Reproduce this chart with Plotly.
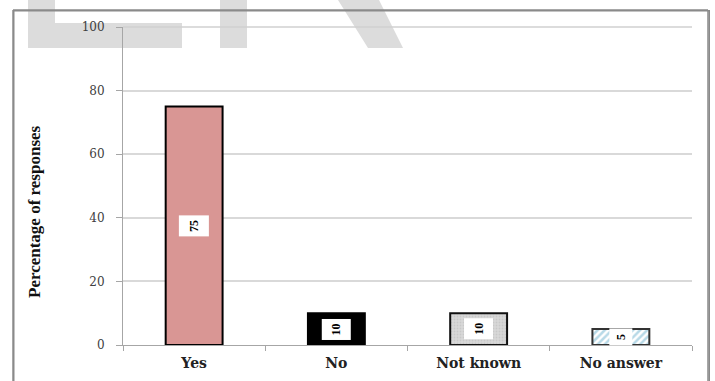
import plotly.graph_objects as go

categories = ["Yes", "No", "Not known", "No answer"]
values = [75, 10, 10, 5]
labels = ["75", "10", "10", "5"]
y_ticks = [0, 20, 40, 60, 80, 100]

W, H = 715, 381
L, R, T, B = 123, 692, 27, 345


def fx(x):
    return x / W


def fy(y):
    return 1 - y / H


styles = [
    dict(color="#d99694", line=dict(color="#000000", width=2)),
    dict(color="#000000", line=dict(color="#000000", width=2)),
    dict(color="#d4d4d4", line=dict(color="#111111", width=2),
         pattern=dict(shape=".", fgcolor="#b8b8b8", bgcolor="#d8d8d8", size=3, solidity=0.3)),
    dict(color="#ffffff", line=dict(color="#333333", width=2),
         pattern=dict(shape="/", fgcolor="#6fb3cf", bgcolor="#ffffff", size=5, solidity=0.5)),
]

fig = go.Figure()
for c, v, st in zip(categories, values, styles):
    fig.add_trace(go.Bar(x=[c], y=[v], marker=st, width=0.4, hoverinfo="skip"))

serif = "Liberation Serif"
wide_serif = "DejaVu Serif"

box_sizes = [(12, 21), (12, 20), (12, 20), (8, 14)]
for c, v, t, (bw, bh) in zip(categories, values, labels, box_sizes):
    fig.add_annotation(
        x=c, y=v / 2, xref="x", yref="y", text="<b>" + t + "</b>", showarrow=False,
        textangle=-90, bgcolor="white", borderpad=4, width=bw, height=bh,
        font=dict(family=serif, size=12, color="#000000"),
    )

fig.add_annotation(
    x=fx(34), y=fy(212), xref="paper", yref="paper",
    text="<b>Percentage of responses</b>", showarrow=False, textangle=-90,
    xanchor="center", yanchor="middle",
    font=dict(family=serif, size=17, color="#111111"),
)

# outer frame drawn as the border of an empty annotation box
fig.add_annotation(
    x=fx(12.5), y=fy(9.5), xref="paper", yref="paper", xanchor="left", yanchor="top",
    text=".", font=dict(color="rgba(0,0,0,0)", size=8), showarrow=False,
    width=694, height=373, borderpad=0,
    bordercolor="#8a8a8a", borderwidth=1.5, bgcolor="rgba(0,0,0,0)",
)

fig.update_layout(
    width=W, height=H,
    margin=dict(l=0, r=0, t=0, b=0),
    paper_bgcolor="white", plot_bgcolor="white",
    showlegend=False,
    barmode="overlay",
)

wm = "#dcdcdc"


def path(pts):
    return "M " + " L ".join(f"{fx(a):.5f},{fy(b):.5f}" for a, b in pts) + " Z"


for pts in [
    [(28, 0), (55, 0), (55, 23), (182, 23), (182, 48), (28, 48)],
    [(220, 0), (247, 0), (247, 48), (220, 48)],
    [(338, 0), (379, 0), (403, 48), (368, 48)],
]:
    fig.add_shape(type="path", xref="paper", yref="paper", layer="below",
                  path=path(pts), fillcolor=wm, line=dict(width=0))

# gridline at 100
fig.add_shape(type="line", xref="paper", yref="paper", layer="above",
              x0=fx(L), x1=fx(R), y0=fy(T), y1=fy(T), line=dict(color="#d0d0d0", width=1.5))

# outer frame lines (kept inside the page)
for x0, y0, x1, y1 in [(13, 10, 708, 10), (13, 10, 13, 381), (708, 10, 708, 381)]:
    fig.add_shape(type="line", xref="paper", yref="paper", layer="above",
                  x0=fx(x0), y0=fy(y0), x1=fx(x1), y1=fy(y1),
                  line=dict(color="#8a8a8a", width=1.5))

fig.update_xaxes(
    domain=[fx(L), fx(R)],
    showgrid=False, showline=True, linecolor="#a6a6a6", linewidth=1,
    ticks="outside", tickson="boundaries", ticklen=5, tickcolor="#a6a6a6",
    tickfont=dict(family=wide_serif, size=14, color="#222222"),
    tickprefix="<b>", ticksuffix="</b>", ticklabelstandoff=5,
    range=[-0.5, 3.5], fixedrange=True, automargin=False,
)
fig.update_yaxes(
    domain=[fy(B), fy(T)],
    range=[0, 100], tickvals=y_ticks, ticktext=[str(v) for v in y_ticks],
    showgrid=True, gridcolor="#d9d9d9", gridwidth=1.5,
    showline=True, linecolor="#a6a6a6", linewidth=1,
    ticks="outside", ticklen=6, tickcolor="#a6a6a6",
    tickfont=dict(family=wide_serif, size=12, color="#404040"),
    ticklabelstandoff=9,
    zeroline=False, fixedrange=True, automargin=False,
)

fig.write_html("out.html")
